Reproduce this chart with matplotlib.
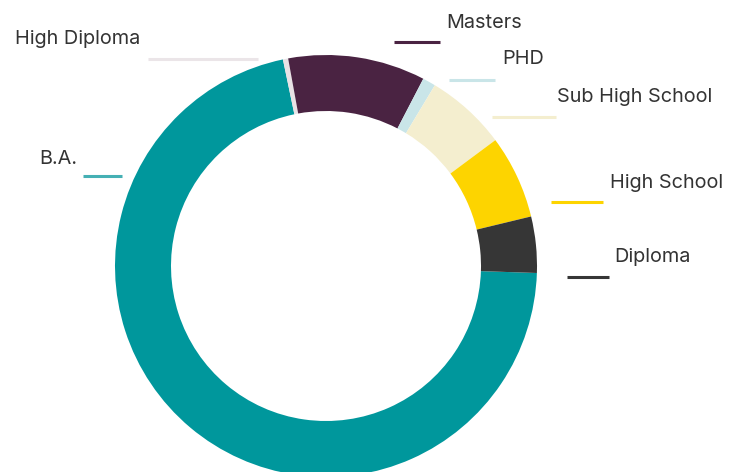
import matplotlib
matplotlib.use("Agg")
import matplotlib.pyplot as plt
from matplotlib.lines import Line2D

# Education level shares (percent)
categories = ["B.A.", "High Diploma", "Masters", "PHD", "Sub High School", "High School", "Diploma"]
shares = [71.2, 0.4, 10.5, 1.0, 6.2, 6.4, 4.3]
slice_colors = ["#00979c", "#e8e2e5", "#4a2342", "#c9e5e8", "#f4eecf", "#fdd400", "#363636"]
tick_colors = ["#45b0b4", "#ebe5e8", "#4a2342", "#c9e5e8", "#f4eecf", "#fdd400", "#363636"]

# Layout (pixel space, origin at top-left)
W, H = 734, 472
center = (326, 266)
outer_r = 211
inner_r = 155
# tick segment (x0, x1, y) and label anchor (x, y, ha)
tick_segments = [(83, 122, 176), (148, 258, 59), (394, 440, 42), (449, 495, 80),
                 (492, 556, 117), (551, 603, 202), (567, 609, 277)]
label_anchors = [(77, 159, "right"), (140, 39, "right"), (446, 23, "left"), (502, 59, "left"),
                 (557, 97, "left"), (610, 183, "left"), (614, 257, "left")]

plt.rcParams["font.family"] = ["Inter", "DejaVu Sans"]

fig = plt.figure(figsize=(W / 100, H / 100), dpi=100)
ax = fig.add_axes([0, 0, 1, 1])

ax.pie(shares, colors=slice_colors, startangle=-1.9, counterclock=False,
       radius=outer_r, center=(center[0], H - center[1]),
       wedgeprops=dict(width=outer_r - inner_r, linewidth=0))

for (x0, x1, y), col in zip(tick_segments, tick_colors):
    ax.add_line(Line2D([x0, x1], [H - y, H - y], color=col, lw=2.2, solid_capstyle="butt"))

for name, (x, y, ha) in zip(categories, label_anchors):
    ax.text(x, H - y, name, ha=ha, va="center", fontsize=14.3, color="#333333")

ax.set_xlim(0, W)
ax.set_ylim(0, H)
ax.set_aspect("equal")
ax.axis("off")

fig.savefig("out.png", dpi=100)
